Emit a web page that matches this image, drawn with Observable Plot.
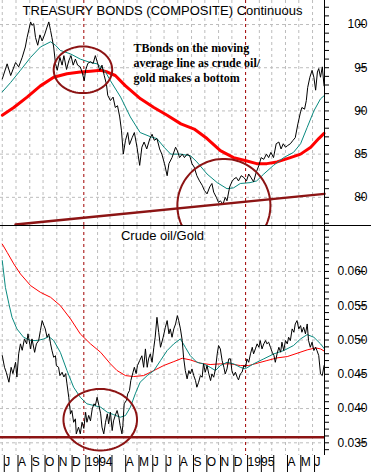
<!DOCTYPE html>
<html><head><meta charset="utf-8">
<script src="https://cdn.jsdelivr.net/npm/d3@7"></script>
<script src="https://cdn.jsdelivr.net/npm/@observablehq/plot@0.6"></script>
<style>
body{margin:0;background:#fff;}
#chart{width:371px;height:472px;overflow:hidden;background:#fff;}
#chart svg{display:block;}
#bottom{border-top:1px solid #000;width:371px;}
</style></head><body><div id="chart"><div id="top"></div><div id="bottom"></div></div>
<script>
// ---------- TOP PANEL: Treasury Bonds (composite) ----------
const bondDates = ["1993-07-01","1993-07-12","1993-07-20","1993-07-31","1993-08-07","1993-08-15","1993-08-22","1993-08-26","1993-09-03","1993-09-06","1993-09-10","1993-09-14","1993-09-19","1993-09-24","1993-09-29","1993-10-05","1993-10-10","1993-10-14","1993-10-18","1993-10-21","1993-10-25","1993-10-29","1993-11-02","1993-11-08","1993-11-13","1993-11-17","1993-11-23","1993-11-28","1993-12-03","1993-12-08","1993-12-13","1993-12-18","1993-12-24","1993-12-28","1994-01-02","1994-01-05","1994-01-10","1994-01-16","1994-01-22","1994-01-27","1994-01-31","1994-02-06","1994-02-11","1994-02-16","1994-02-21","1994-02-24","1994-03-02","1994-03-08","1994-03-13","1994-03-18","1994-03-23","1994-03-27","1994-03-31","1994-04-05","1994-04-10","1994-04-14","1994-04-20","1994-04-25","1994-05-01","1994-05-07","1994-05-12","1994-05-17","1994-05-23","1994-05-30","1994-06-04","1994-06-09","1994-06-15","1994-06-21","1994-06-26","1994-07-02","1994-07-08","1994-07-12","1994-07-19","1994-07-27","1994-07-31","1994-08-05","1994-08-11","1994-08-16","1994-08-22","1994-08-28","1994-09-02","1994-09-07","1994-09-13","1994-09-19","1994-09-25","1994-09-30","1994-10-06","1994-10-12","1994-10-17","1994-10-21","1994-10-27","1994-11-01","1994-11-05","1994-11-11","1994-11-16","1994-11-20","1994-11-26","1994-12-01","1994-12-05","1994-12-11","1994-12-16","1994-12-22","1994-12-28","1995-01-03","1995-01-08","1995-01-13","1995-01-19","1995-01-25","1995-01-31","1995-02-05","1995-02-11","1995-02-17","1995-02-22","1995-02-27","1995-03-05","1995-03-11","1995-03-17","1995-03-22","1995-03-27","1995-04-01","1995-04-06","1995-04-12","1995-04-18","1995-04-23","1995-04-29","1995-05-05","1995-05-08","1995-05-14","1995-05-18","1995-05-21","1995-05-26","1995-05-31","1995-06-04","1995-06-08","1995-06-12","1995-06-15","1995-06-19","1995-06-23","1995-06-27"];
const bondValues = [93.7,95.45,94.1,95.6,95.1,96.2,97.4,98.5,100.3,99.9,100.1,98.5,97.6,98.8,98.1,98.9,99.7,100.3,99.3,98.5,97.4,95.5,94.7,96.2,95.3,96.4,94.8,95.8,96.4,95.3,96.0,95.3,95.1,94.5,93.5,94.7,95.5,95.7,95.5,96.4,95.7,94.7,95.3,94.1,93.1,91.8,91.2,91.6,90.4,90.6,89.3,87.7,85.0,86.6,87.5,86.1,86.9,87.5,85.8,83.7,85.8,86.4,85.6,86.8,87.3,86.6,86.8,85.6,85.0,83.9,82.5,83.9,84.6,85.8,85.4,84.6,85.0,84.6,85.0,84.8,83.9,83.5,82.5,81.9,81.4,80.8,80.4,81.2,81.6,80.6,80.0,79.4,79.6,79.2,80.0,79.6,81.2,81.8,82.1,82.3,81.9,82.5,82.3,81.9,82.7,82.3,81.8,82.9,83.7,84.6,84.4,85.0,84.6,85.2,84.6,86.2,86.4,85.6,86.2,85.8,86.0,86.2,86.6,86.9,88.5,89.9,90.4,90.2,91.2,92.7,93.9,94.7,93.9,92.4,94.5,94.9,93.9,95.1,92.9];

const bondShortMADates = ["1993-07-01","1993-07-20","1993-08-11","1993-09-03","1993-09-25","1993-10-18","1993-10-29","1993-11-09","1993-12-02","1993-12-24","1994-01-16","1994-01-31","1994-02-08","1994-02-19","1994-03-02","1994-03-25","1994-04-16","1994-05-08","1994-06-01","1994-06-15","1994-07-01","1994-07-16","1994-08-07","1994-08-30","1994-09-13","1994-10-06","1994-10-29","1994-11-20","1994-12-05","1994-12-20","1995-01-11","1995-01-26","1995-02-11","1995-03-05","1995-03-28","1995-04-19","1995-05-05","1995-05-20","1995-06-04","1995-06-19","1995-06-28"];
const bondShortMAValues = [92.2,93.3,94.7,96.2,97.4,98.0,97.6,97.0,96.6,96.0,95.6,95.45,95.1,94.5,93.5,91.6,89.3,87.5,87.0,86.8,85.8,85.0,85.0,84.8,84.1,82.7,81.7,81.0,81.1,81.6,81.7,81.9,82.7,83.7,84.6,85.2,86.2,88.1,90.0,91.4,91.8];

const bondLongMADates = ["1993-07-01","1993-07-27","1993-08-26","1993-09-25","1993-10-25","1993-11-24","1993-12-24","1994-01-16","1994-02-08","1994-02-23","1994-03-13","1994-04-05","1994-05-09","1994-06-08","1994-07-08","1994-08-08","1994-09-07","1994-10-06","1994-11-05","1994-12-05","1995-01-04","1995-01-26","1995-02-18","1995-03-13","1995-04-12","1995-05-05","1995-05-28","1995-06-15","1995-06-27"];
const bondLongMAValues = [89.5,90.4,91.6,92.9,93.9,94.3,94.5,94.6,94.7,94.5,94.1,92.9,91.4,90.4,89.5,88.5,87.9,86.8,85.4,84.6,84.2,83.9,83.9,84.1,84.6,85.0,85.8,86.8,87.4];

const bondTrendDates = ["1993-07-31","1995-06-28"];
const bondTrendValues = [76.85,80.4];

const bondTicks = [80,85,90,95,100];

// ---------- BOTTOM PANEL: Crude oil / Gold ----------
const ratioDates = ["1993-07-01","1993-07-06","1993-07-10","1993-07-16","1993-07-21","1993-07-25","1993-07-31","1993-08-03","1993-08-07","1993-08-11","1993-08-15","1993-08-20","1993-08-25","1993-08-28","1993-09-03","1993-09-06","1993-09-12","1993-09-16","1993-09-21","1993-09-25","1993-09-29","1993-10-03","1993-10-06","1993-10-10","1993-10-14","1993-10-18","1993-10-21","1993-10-25","1993-10-29","1993-10-31","1993-11-05","1993-11-08","1993-11-13","1993-11-17","1993-11-21","1993-11-24","1993-11-28","1993-12-02","1993-12-05","1993-12-09","1993-12-13","1993-12-15","1993-12-20","1993-12-24","1993-12-28","1994-01-01","1994-01-05","1994-01-08","1994-01-12","1994-01-16","1994-01-20","1994-01-24","1994-01-27","1994-01-31","1994-02-04","1994-02-08","1994-02-11","1994-02-15","1994-02-19","1994-02-23","1994-02-26","1994-03-02","1994-03-06","1994-03-09","1994-03-13","1994-03-17","1994-03-21","1994-03-24","1994-03-28","1994-03-30","1994-04-02","1994-04-07","1994-04-10","1994-04-14","1994-04-17","1994-04-22","1994-04-25","1994-04-29","1994-05-02","1994-05-07","1994-05-12","1994-05-16","1994-05-20","1994-05-24","1994-05-27","1994-05-31","1994-06-04","1994-06-08","1994-06-11","1994-06-15","1994-06-19","1994-06-23","1994-06-29","1994-07-04","1994-07-08","1994-07-12","1994-07-15","1994-07-19","1994-07-23","1994-07-27","1994-07-31","1994-08-03","1994-08-07","1994-08-11","1994-08-14","1994-08-18","1994-08-22","1994-08-26","1994-08-29","1994-09-02","1994-09-06","1994-09-10","1994-09-13","1994-09-17","1994-09-21","1994-09-25","1994-09-28","1994-10-02","1994-10-06","1994-10-10","1994-10-14","1994-10-17","1994-10-21","1994-10-25","1994-10-29","1994-11-01","1994-11-05","1994-11-09","1994-11-13","1994-11-16","1994-11-20","1994-11-24","1994-11-28","1994-12-01","1994-12-05","1994-12-09","1994-12-13","1994-12-16","1994-12-20","1994-12-24","1994-12-28","1995-01-01","1995-01-04","1995-01-08","1995-01-12","1995-01-16","1995-01-19","1995-01-23","1995-01-27","1995-01-31","1995-02-03","1995-02-07","1995-02-11","1995-02-15","1995-02-18","1995-02-22","1995-02-26","1995-03-02","1995-03-06","1995-03-09","1995-03-13","1995-03-17","1995-03-21","1995-03-24","1995-03-28","1995-04-01","1995-04-05","1995-04-08","1995-04-12","1995-04-16","1995-04-20","1995-04-23","1995-04-27","1995-05-01","1995-05-05","1995-05-08","1995-05-12","1995-05-16","1995-05-20","1995-05-23","1995-05-27","1995-05-31","1995-06-04","1995-06-08","1995-06-11","1995-06-15","1995-06-19","1995-06-23","1995-06-27"];
const ratioValues = [0.04773,0.04602,0.04529,0.04384,0.04602,0.0451,0.04675,0.0446,0.04798,0.04944,0.0485,0.05016,0.04944,0.0509,0.0487,0.05016,0.0482,0.04944,0.0499,0.05137,0.05283,0.0521,0.05162,0.0504,0.0509,0.04944,0.0485,0.04748,0.0477,0.04627,0.04602,0.04481,0.0453,0.0446,0.0451,0.0436,0.04165,0.03923,0.03971,0.038,0.0385,0.03631,0.03728,0.03631,0.038,0.0371,0.03946,0.038,0.039,0.0382,0.03996,0.04069,0.04045,0.04165,0.04045,0.03923,0.03728,0.03631,0.038,0.03923,0.03777,0.03946,0.03679,0.0382,0.039,0.03971,0.03874,0.0375,0.03631,0.0375,0.04069,0.04118,0.04214,0.04263,0.04408,0.0453,0.04602,0.0451,0.04627,0.047,0.0477,0.04602,0.0487,0.04602,0.04724,0.04798,0.04675,0.04894,0.0504,0.05331,0.0511,0.04894,0.0504,0.05186,0.05283,0.0509,0.05162,0.0504,0.05162,0.05234,0.05356,0.05283,0.05162,0.04992,0.0475,0.04554,0.04433,0.04554,0.04505,0.04578,0.04481,0.04408,0.04311,0.04384,0.04481,0.04457,0.04652,0.0453,0.04627,0.04505,0.04408,0.04505,0.04457,0.04578,0.04798,0.04919,0.0487,0.047,0.04602,0.04505,0.04578,0.04725,0.04725,0.04554,0.04481,0.0453,0.04457,0.04418,0.04505,0.0453,0.04627,0.04602,0.04724,0.04675,0.04798,0.04894,0.04798,0.0487,0.04944,0.04894,0.04992,0.0487,0.04944,0.04992,0.04944,0.04968,0.04894,0.04822,0.04773,0.04675,0.04798,0.04894,0.04822,0.04968,0.04846,0.04992,0.04944,0.0504,0.04992,0.05162,0.05113,0.05234,0.05283,0.05162,0.0521,0.05113,0.05186,0.0509,0.05234,0.04992,0.04894,0.04968,0.04846,0.04894,0.04846,0.04773,0.04506,0.04481,0.04627];

const ratioShortMADates = ["1993-07-01","1993-07-08","1993-07-16","1993-07-23","1993-08-03","1993-08-18","1993-09-03","1993-09-18","1993-10-03","1993-10-14","1993-10-25","1993-11-09","1993-11-24","1993-12-09","1993-12-24","1994-01-08","1994-01-24","1994-02-08","1994-02-23","1994-03-09","1994-03-24","1994-04-05","1994-04-16","1994-04-27","1994-05-08","1994-05-24","1994-06-08","1994-06-23","1994-07-08","1994-07-23","1994-08-07","1994-08-18","1994-08-29","1994-09-13","1994-09-28","1994-10-13","1994-10-25","1994-11-05","1994-11-20","1994-12-05","1994-12-20","1994-12-31","1995-01-19","1995-02-11","1995-03-06","1995-03-28","1995-04-19","1995-05-05","1995-05-20","1995-06-04","1995-06-19","1995-06-28"];
const ratioShortMAValues = [0.06158,0.05769,0.05527,0.05331,0.05162,0.0504,0.04992,0.04992,0.05016,0.0505,0.04992,0.0482,0.04554,0.04311,0.04165,0.04069,0.04044,0.0402,0.03946,0.03912,0.03873,0.03898,0.04019,0.04214,0.04384,0.04481,0.04554,0.047,0.04846,0.04944,0.05016,0.04894,0.04773,0.04675,0.04652,0.04602,0.04554,0.04627,0.04675,0.04652,0.04602,0.04579,0.04652,0.04725,0.04798,0.04846,0.04919,0.05016,0.05079,0.0504,0.04944,0.0487];

const ratioLongMADates = ["1993-07-01","1993-07-12","1993-07-27","1993-08-11","1993-09-03","1993-09-25","1993-10-18","1993-11-09","1993-12-02","1993-12-24","1994-01-16","1994-02-08","1994-03-02","1994-03-17","1994-04-05","1994-04-23","1994-05-16","1994-06-08","1994-06-30","1994-07-23","1994-08-11","1994-08-29","1994-09-21","1994-10-13","1994-11-05","1994-11-28","1994-12-20","1995-01-08","1995-01-27","1995-02-18","1995-03-13","1995-04-05","1995-04-27","1995-05-20","1995-06-08","1995-06-19","1995-06-28"];
const ratioLongMAValues = [0.0640,0.06279,0.0611,0.05964,0.05793,0.05696,0.05623,0.05502,0.05308,0.05089,0.04944,0.0482,0.04652,0.04554,0.04481,0.04467,0.04481,0.04554,0.04627,0.04685,0.04734,0.0471,0.04661,0.04642,0.04652,0.04652,0.04627,0.04627,0.04661,0.047,0.04739,0.04758,0.04806,0.04856,0.04885,0.0487,0.04836];

const ratioSupport = [0.03582];
const ratioTicks = [0.035,0.040,0.045,0.050,0.055,0.060];

// ---------- Axis labels / annotations ----------
const monthLabels = ["J","A","S","O","N","D","1994","","","A","M","J","J","A","S","O","N","D","1995","","","A","M","J"];
const bondTitle = "TREASURY BONDS (COMPOSITE) Continuous";
const ratioTitle = "Crude oil/Gold";
const noteText = "TBonds on the moving\naverage line as crude oil/\ngold makes a bottom";
const noteDate = "1994-04-23", noteValue = 98.0;
// circles: [center date, center value, half-width in days, half-height in value units]
const bondCircles = [["1993-12-30",94.76,66,2.7],["1994-11-13",79.05,105,5.4]];
const ratioCircles = [["1994-02-07",0.03837,83,0.00449]];

// ---------- build ----------
const P = d3.utcParse("%Y-%m-%d");
const zip = (ds, vs) => ds.map((d, i) => ({date: P(d), value: vs[i]}));
const xDomain = [P("1993-06-27"), P("1995-06-28")];
const months = d3.utcMonth.range(P("1993-07-01"), xDomain[1]);
const yearStarts = months.filter(d => d.getUTCMonth() === 0);
const otherMonths = months.filter(d => d.getUTCMonth() !== 0);
const labelOf = new Map(months.map((d, i) => [+d, monthLabels[i]]));
const ellipse = ([c, v, dd, dv]) => d3.range(0, 360, 4).map(a => {
  const t = a * Math.PI / 180;
  return {date: new Date(P(c).getTime() + Math.cos(t) * dd * 864e5), value: v + Math.sin(t) * dv};
});
const DARK = "#8c1414", GRID = "#bdbdbd", TEAL = "#0a8a80";
const font = "Liberation Sans, Arial, sans-serif";

const gridMarks = (ticks) => [
  Plot.ruleX(otherMonths, {stroke: GRID, strokeDasharray: "3,3"}),
  Plot.ruleY(ticks, {stroke: GRID, strokeDasharray: "3,3"}),
  Plot.ruleX(yearStarts, {stroke: "#a00000", strokeDasharray: "3,3"})
];
const rightAxis = (major, minor) => [
  Plot.axisY({anchor: "right", ticks: minor, tickSize: 4, tickFormat: () => "", label: null}),
  Plot.axisY({anchor: "right", ticks: major, tickSize: 7, tickPadding: 3, textAnchor: "end", dx: 33, fontSize: 12, label: null}),
  Plot.ruleX([xDomain[1]], {stroke: "#000"})
];

const topChart = Plot.plot({
  width: 371, height: 225,
  marginLeft: 0, marginRight: 47, marginTop: 0, marginBottom: 0,
  style: {fontFamily: font, fontSize: "12px", background: "#fff", color: "#000", overflow: "hidden"},
  x: {type: "utc", domain: xDomain, axis: null},
  y: {domain: [76.74, 102.78], axis: null},
  marks: [
    ...gridMarks(bondTicks),
    Plot.line(zip(bondLongMADates, bondLongMAValues), {x: "date", y: "value", stroke: "#ff0000", strokeWidth: 3}),
    Plot.line(zip(bondShortMADates, bondShortMAValues), {x: "date", y: "value", stroke: TEAL, strokeWidth: 1}),
    Plot.line(zip(bondDates, bondValues), {x: "date", y: "value", stroke: "#000", strokeWidth: 1}),
    Plot.line(zip(bondTrendDates, bondTrendValues), {x: "date", y: "value", stroke: DARK, strokeWidth: 2.5}),
    ...bondCircles.map(c => Plot.line(ellipse(c), {x: "date", y: "value", stroke: DARK, strokeWidth: 2, curve: "linear-closed", clip: true})),
    Plot.text([bondTitle], {frameAnchor: "top", lineAnchor: "top", dy: 5, fontSize: 13, fill: "#000"}),
    Plot.text([noteText], {x: () => P(noteDate), y: () => noteValue, lineAnchor: "top", textAnchor: "start", fontFamily: "Liberation Serif, Times New Roman, serif", fontWeight: "bold", fontSize: 12, lineHeight: 1.25, fill: "#000"}),
    ...rightAxis(bondTicks, d3.range(77, 103))
  ]
});

const bottomChart = Plot.plot({
  width: 371, height: 246,
  marginLeft: 0, marginRight: 47, marginTop: 0, marginBottom: 17,
  style: {fontFamily: font, fontSize: "12px", background: "#fff", color: "#000", overflow: "hidden"},
  x: {type: "utc", domain: xDomain, axis: null},
  y: {domain: [0.03315, 0.06656], axis: null},
  marks: [
    ...gridMarks(ratioTicks),
    Plot.line(zip(ratioLongMADates, ratioLongMAValues), {x: "date", y: "value", stroke: "#ff0000", strokeWidth: 1}),
    Plot.line(zip(ratioShortMADates, ratioShortMAValues), {x: "date", y: "value", stroke: TEAL, strokeWidth: 1}),
    Plot.line(zip(ratioDates, ratioValues), {x: "date", y: "value", stroke: "#000", strokeWidth: 1}),
    Plot.ruleY(ratioSupport, {stroke: DARK, strokeWidth: 2.5}),
    ...ratioCircles.map(c => Plot.line(ellipse(c), {x: "date", y: "value", stroke: DARK, strokeWidth: 2, curve: "linear-closed", clip: true})),
    Plot.text([ratioTitle], {frameAnchor: "top", lineAnchor: "top", dy: 4, fontSize: 13, fill: "#000"}),
    ...rightAxis(ratioTicks, d3.range(34, 67).map(d => d / 1000)),
    Plot.axisX({ticks: months, tickSize: 17, tickPadding: -15, textAnchor: "start", dx: 2, fontSize: 12, label: null, tickFormat: d => labelOf.get(+d) ?? ""})
  ]
});

document.getElementById("top").append(topChart);
document.getElementById("bottom").append(bottomChart);
</script></body></html>
